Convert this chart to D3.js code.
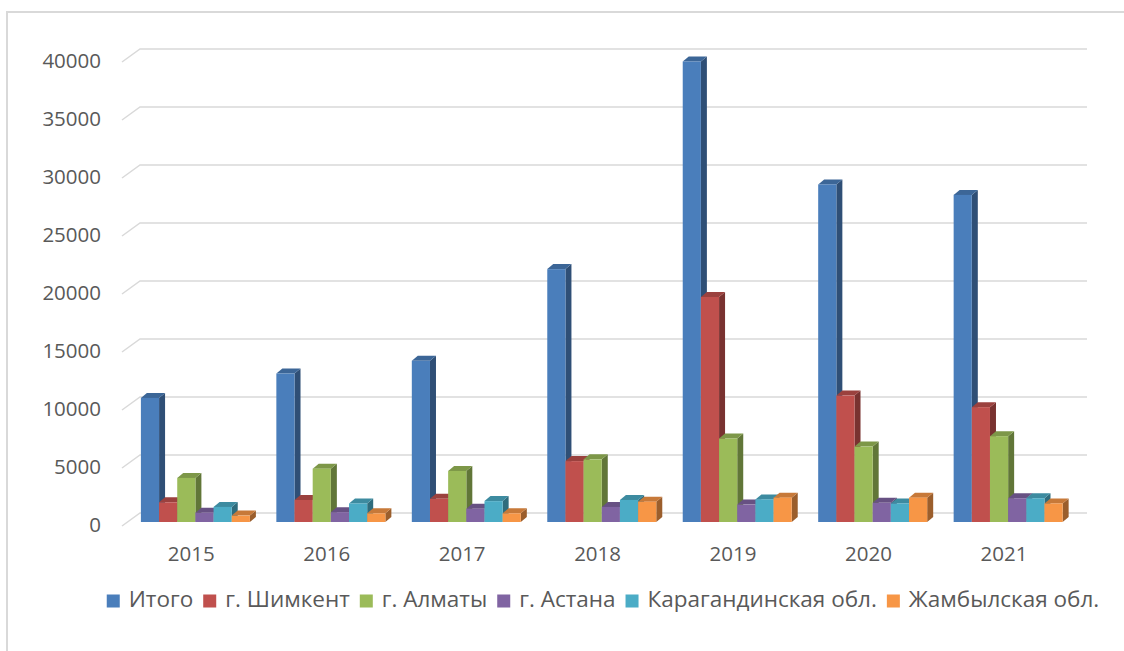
<!DOCTYPE html>
<html>
<head>
<meta charset="utf-8">
<script src="https://cdn.jsdelivr.net/npm/d3@7"></script>
<style>
  body { margin: 0; background: #fff; }
  text { font-family: "Open Sans", "Noto Sans", sans-serif; fill: #595959; }
</style>
</head>
<body>
<div id="chart"></div>
<script>
// categories
const years = ["2015", "2016", "2017", "2018", "2019", "2020", "2021"];
const seriesNames = ["Итого", "г. Шимкент", "г. Алматы", "г. Астана", "Карагандинская обл.", "Жамбылская обл."];
const seriesColors = ["#4a7ebb", "#c0504d", "#9bbb59", "#8064a2", "#4bacc6", "#f79646"];

// series values
const itogo     = [10700, 12800, 13900, 21800, 39700, 29100, 28200];
const shymkent  = [1700, 1900, 2000, 5250, 19400, 10900, 9900];
const almaty    = [3800, 4600, 4400, 5400, 7200, 6500, 7400];
const astana    = [800, 850, 1150, 1300, 1500, 1650, 2050];
const karaganda = [1300, 1600, 1800, 1900, 1950, 1600, 2050];
const zhambyl   = [550, 750, 750, 1750, 2100, 2100, 1600];

const yTicks = [0, 5000, 10000, 15000, 20000, 25000, 30000, 35000, 40000];

const seriesValues = [itogo, shymkent, almaty, astana, karaganda, zhambyl];

const W = 1124, H = 651;

const svg = d3.select("#chart").append("svg")
    .attr("width", W)
    .attr("height", H);

// outer frame (top + left edges visible)
svg.append("path")
    .attr("d", `M7,${H} L7,12 L${W},12`)
    .attr("fill", "none")
    .attr("stroke", "#d9d9d9")
    .attr("stroke-width", 2);

// scales
const floorFront = 526;   // y of the front floor edge at value 0
const barBase = 522;      // y of bar front bottoms
const wallDx = 18, wallDy = 13;  // floor depth projection
const barDx = 6, barDy = 5;      // bar depth projection

const k = 464 / 40000;
const y = d3.scaleLinear().domain([0, 40000]).range([0, 40000 * k]);

const x = d3.scaleBand().domain(years).range([123.5, 1071.7]);
const xs = d3.scaleBand().domain(seriesNames).range([17.4, 126.4]);

// gridlines with the slanted stub on the side wall
const grid = svg.append("g").attr("class", "grid");
yTicks.forEach(t => {
    let yf = floorFront - y(t);
    grid.append("path")
        .attr("d", `M122,${yf} L${122 + wallDx},${yf - wallDy} L1087,${yf - wallDy}`)
        .attr("fill", "none")
        .attr("stroke", "#d9d9d9")
        .attr("stroke-width", 1.5);
    grid.append("text")
        .attr("x", 101)
        .attr("y", yf + 1)
        .attr("text-anchor", "end")
        .attr("dominant-baseline", "middle")
        .attr("font-size", "20.5px")
        .text(t);
});

// 3D bars
const bars = svg.append("g").attr("class", "bars");
years.forEach((yr, i) => {
    seriesNames.forEach((s, j) => {
        let v = seriesValues[j][i];
        let x0 = x(yr) + xs(s);
        let w = xs.bandwidth();
        let yt = barBase - y(v);
        let c = d3.color(seriesColors[j]);
        let g = bars.append("g");
        // side
        g.append("path")
            .attr("d", `M${x0 + w},${yt} L${x0 + w + barDx},${yt - barDy} L${x0 + w + barDx},${barBase - barDy} L${x0 + w},${barBase} Z`)
            .attr("fill", c.darker(1.3));
        // top
        g.append("path")
            .attr("d", `M${x0},${yt} L${x0 + barDx},${yt - barDy} L${x0 + w + barDx},${yt - barDy} L${x0 + w},${yt} Z`)
            .attr("fill", c.darker(0.6));
        // front
        g.append("rect")
            .attr("x", x0)
            .attr("y", yt)
            .attr("width", w)
            .attr("height", barBase - yt)
            .attr("fill", c);
    });
});

// category labels
svg.append("g").selectAll("text")
    .data(years)
    .join("text")
    .attr("x", d => x(d) + x.bandwidth() / 2)
    .attr("y", 556)
    .attr("text-anchor", "middle")
    .attr("dominant-baseline", "middle")
    .attr("font-size", "20.5px")
    .text(d => d);

// legend
const legend = svg.append("g").attr("class", "legend");
let items = seriesNames.map((s, j) => {
    let it = legend.append("g");
    it.append("rect")
        .attr("width", 13).attr("height", 13)
        .attr("y", -6.5)
        .attr("fill", seriesColors[j]);
    let t = it.append("text")
        .attr("x", 22)
        .attr("dominant-baseline", "middle")
        .attr("font-size", "22.5px")
        .attr("fill", "#4d4d4d")
        .text(s);
    return {g: it, w: 22 + t.node().getComputedTextLength()};
});
let gap = 10;
let total = d3.sum(items, d => d.w) + gap * (items.length - 1);
let lx = 603 - total / 2;
items.forEach(d => {
    d.g.attr("transform", `translate(${lx},601)`);
    lx += d.w + gap;
});
</script>
</body>
</html>
